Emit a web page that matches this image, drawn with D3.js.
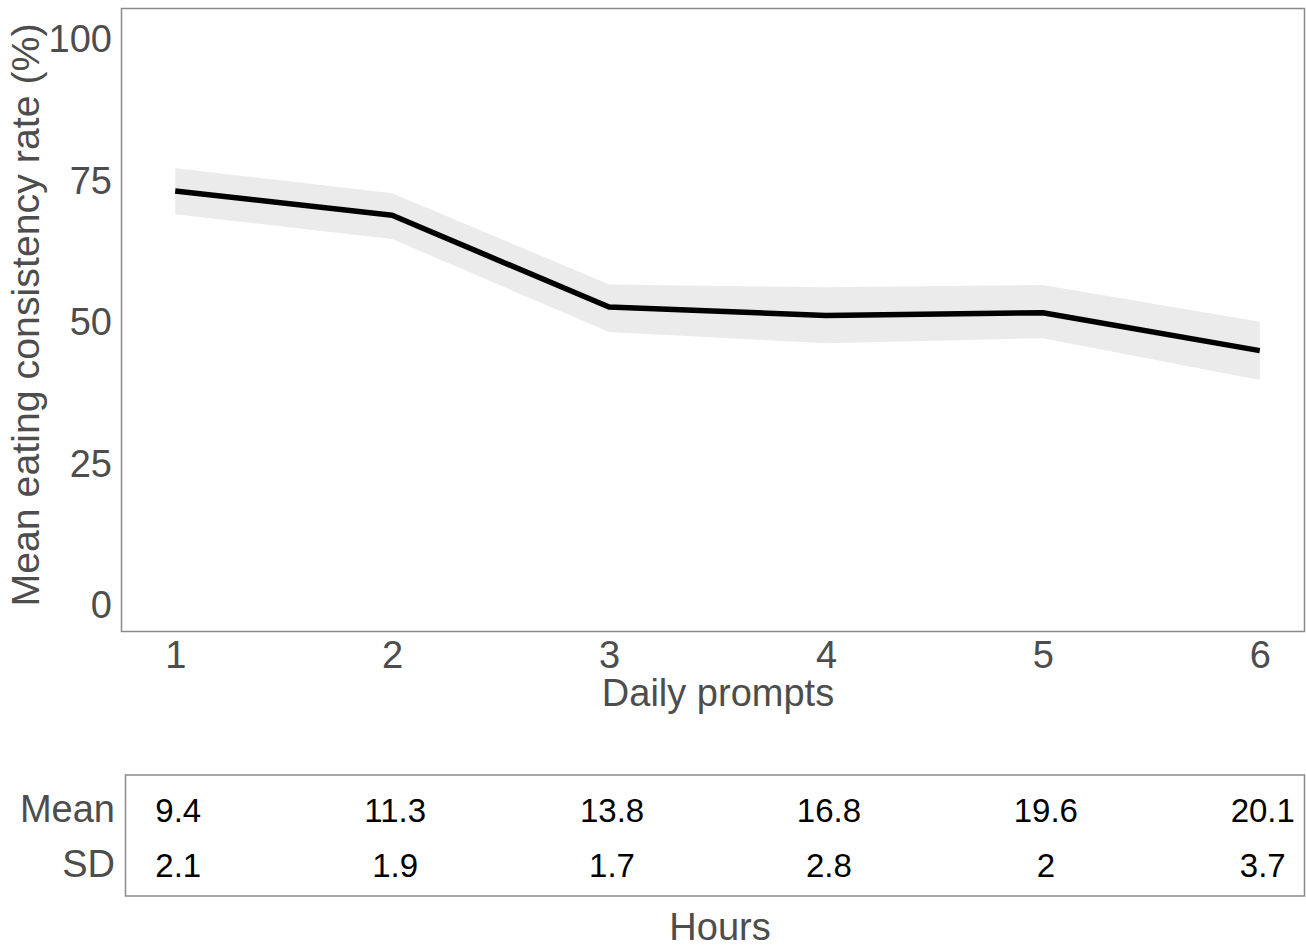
<!DOCTYPE html>
<html>
<head>
<meta charset="utf-8">
<script src="https://cdn.jsdelivr.net/npm/d3@7"></script>
<style>
  html, body { margin: 0; padding: 0; background: #fff; }
  svg { display: block; font-family: "Liberation Sans", Arial, sans-serif; }
</style>
</head>
<body>
<svg id="chart" width="1306" height="947"></svg>
<script>
// Daily prompts (x categories)
const prompts = [1, 2, 3, 4, 5, 6];
// Mean eating consistency rate (%) and its confidence band
const meanRate = [72.7, 68.4, 52.2, 50.7, 51.2, 44.5];
const lowerRate = [68.6, 64.2, 47.8, 45.8, 46.7, 39.3];
const upperRate = [76.7, 72.3, 56.2, 55.7, 56.1, 49.6];
// Axis ticks
const yTicks = [0, 25, 50, 75, 100];
// Hours table under the plot
const hoursMean = ["9.4", "11.3", "13.8", "16.8", "19.6", "20.1"];
const hoursSD = ["2.1", "1.9", "1.7", "2.8", "2", "3.7"];
const rowLabels = ["Mean", "SD"];

const svg = d3.select("#chart");
const textGrey = "#4d4d4d";
const borderGrey = "#8a8a8a";

const panel = { left: 121, right: 1305, top: 8, bottom: 631 };

const x = d3.scaleLinear().domain([0.75, 6.25]).range([121, 1314]);
const y = d3.scaleLinear().domain([-5, 105]).range([panel.bottom, panel.top]);

const rows = prompts.map((p, i) => ({ p, m: meanRate[i], lo: lowerRate[i], hi: upperRate[i] }));

// confidence ribbon
svg.append("path")
  .datum(rows)
  .attr("fill", "#ebebeb")
  .attr("d", d3.area().x(d => x(d.p)).y0(d => y(d.lo)).y1(d => y(d.hi)));

// mean line
svg.append("path")
  .datum(rows)
  .attr("fill", "none")
  .attr("stroke", "#000")
  .attr("stroke-width", 5.5)
  .attr("stroke-linejoin", "round")
  .attr("d", d3.line().x(d => x(d.p)).y(d => y(d.m)));

// panel border
svg.append("rect")
  .attr("x", panel.left + 0.5).attr("y", panel.top + 0.5)
  .attr("width", panel.right - panel.left - 1).attr("height", panel.bottom - panel.top)
  .attr("fill", "none").attr("stroke", borderGrey).attr("stroke-width", 1.5);

// y axis labels
const yAxis = d3.axisLeft(y).tickValues(yTicks).tickSize(0).tickPadding(9);
const gy = svg.append("g").attr("transform", `translate(${panel.left},0)`).call(yAxis);
gy.select(".domain").remove();
gy.selectAll("text").attr("font-size", 38).attr("fill", textGrey)
  .attr("font-family", "Liberation Sans, Arial, sans-serif").attr("dy", "0.4em");

// x axis labels
const xAxis = d3.axisBottom(x).tickValues(prompts).tickFormat(d3.format("d")).tickSize(0).tickPadding(10);
const gx = svg.append("g").attr("transform", `translate(0,${panel.bottom})`).call(xAxis);
gx.select(".domain").remove();
gx.selectAll("text").attr("font-size", 38).attr("fill", textGrey)
  .attr("font-family", "Liberation Sans, Arial, sans-serif");

// axis titles
svg.append("text")
  .attr("x", 718).attr("y", 706)
  .attr("text-anchor", "middle").attr("font-size", 38).attr("fill", textGrey)
  .text("Daily prompts");

svg.append("text")
  .attr("transform", `translate(39,315) rotate(-90)`)
  .attr("text-anchor", "middle").attr("font-size", 39.3).attr("fill", textGrey)
  .text("Mean eating consistency rate (%)");

// hours table
const table = { left: 125, right: 1305, top: 775, bottom: 896 };
svg.append("rect")
  .attr("x", table.left + 0.5).attr("y", table.top)
  .attr("width", table.right - table.left - 1).attr("height", table.bottom - table.top)
  .attr("fill", "none").attr("stroke", borderGrey).attr("stroke-width", 1.5);

const rowY = d3.scalePoint().domain(rowLabels).range([822, 877]);

svg.selectAll("text.rowlab")
  .data(rowLabels).join("text")
  .attr("class", "rowlab")
  .attr("x", 115).attr("y", d => rowY(d))
  .attr("text-anchor", "end").attr("font-size", 38).attr("fill", textGrey)
  .text(d => d);

const tableRows = [hoursMean, hoursSD];
tableRows.forEach((vals, r) => {
  svg.selectAll(null)
    .data(vals).join("text")
    .attr("x", (d, i) => x(prompts[i]) + 3)
    .attr("y", rowY(rowLabels[r]))
    .attr("text-anchor", "middle").attr("font-size", 33).attr("fill", "#000")
    .text(d => d);
});

svg.append("text")
  .attr("x", 720).attr("y", 940)
  .attr("text-anchor", "middle").attr("font-size", 38).attr("fill", textGrey)
  .text("Hours");
</script>
</body>
</html>
